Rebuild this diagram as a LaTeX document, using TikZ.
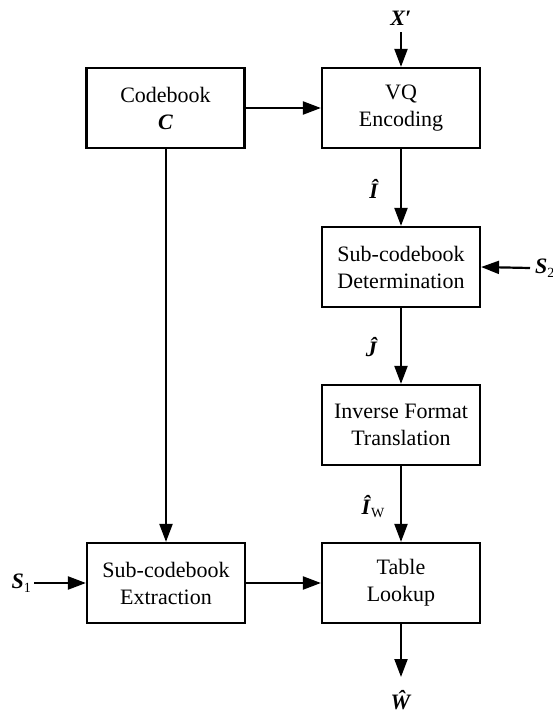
\documentclass[tikz,border=0pt]{standalone}
\usepackage{fontspec}
\setmainfont{Liberation Serif}
\usetikzlibrary{arrows.meta}
\newcommand{\bi}[1]{\textbf{\textit{#1}}}
\newcommand{\lowsub}[1]{\raisebox{-0.35ex}{\fontsize{14pt}{14pt}\selectfont #1}}
\begin{document}
\begin{tikzpicture}[x=1pt,y=-1pt,
  block/.style={draw, line width=2.2pt, minimum width=158pt, minimum height=80pt,
    align=center, inner sep=0pt, font=\fontsize{22pt}{27pt}\selectfont},
  lbl/.style={inner sep=0pt, font=\fontsize{22pt}{27pt}\selectfont},
  flow/.style={line width=2.2pt, -{Triangle[length=18pt,width=13pt]}}]
\useasboundingbox (0,0) rectangle (553,715);

% processing blocks
\node[block] (cb)  at (165.5,108) {Codebook\\\bi{C}};
\node[block] (vq)  at (401,108)   {VQ\\Encoding};
\node[block] (det) at (401,267)   {Sub-codebook\\Determination};
\node[block] (ift) at (401,425)   {Inverse Format\\Translation};
\node[block] (ext) at (166,583)   {Sub-codebook\\Extraction};
\node[block] (tl)  at (401,583)   {Table\\Lookup};

% external signals
\node[lbl, anchor=base] (x) at (401,25) {\bi{X}\textbf{′}};
\coordinate (xa) at (401,32);
\node[lbl, anchor=west] (s2) at (535,268) {\bi{S}\lowsub{2}};
\coordinate (s2a) at (530,268);
\node[lbl, anchor=east] (s1) at (31,583) {\bi{S}\lowsub{1}};
\coordinate (s1a) at (34,583);
\coordinate (wa) at (401,677);
\node[lbl, anchor=base] (w) at (401,709) {\bi{Ŵ}};

% signal names on links
\node[lbl, anchor=base] (ih) at (374,198) {\bi{Î}};
\node[lbl, anchor=base] (jh) at (372,356) {\bi{Ĵ}};
\node[lbl, anchor=base] (iw) at (373,514) {\bi{Î}\lowsub{W}};

% connectors
\draw[flow] (xa) -- (vq);
\draw[flow] (cb) -- (vq);
\draw[flow] (vq) -- (det);
\draw[flow] (s2a) -- (det.east);
\draw[flow] (det) -- (ift);
\draw[flow] (ift) -- (tl);
\draw[flow] (cb.south -| ext.north) -- (ext);
\draw[flow] (s1a) -- (ext.west);
\draw[flow] (ext) -- (tl);
\draw[flow] (tl) -- (wa);
\end{tikzpicture}
\end{document}
